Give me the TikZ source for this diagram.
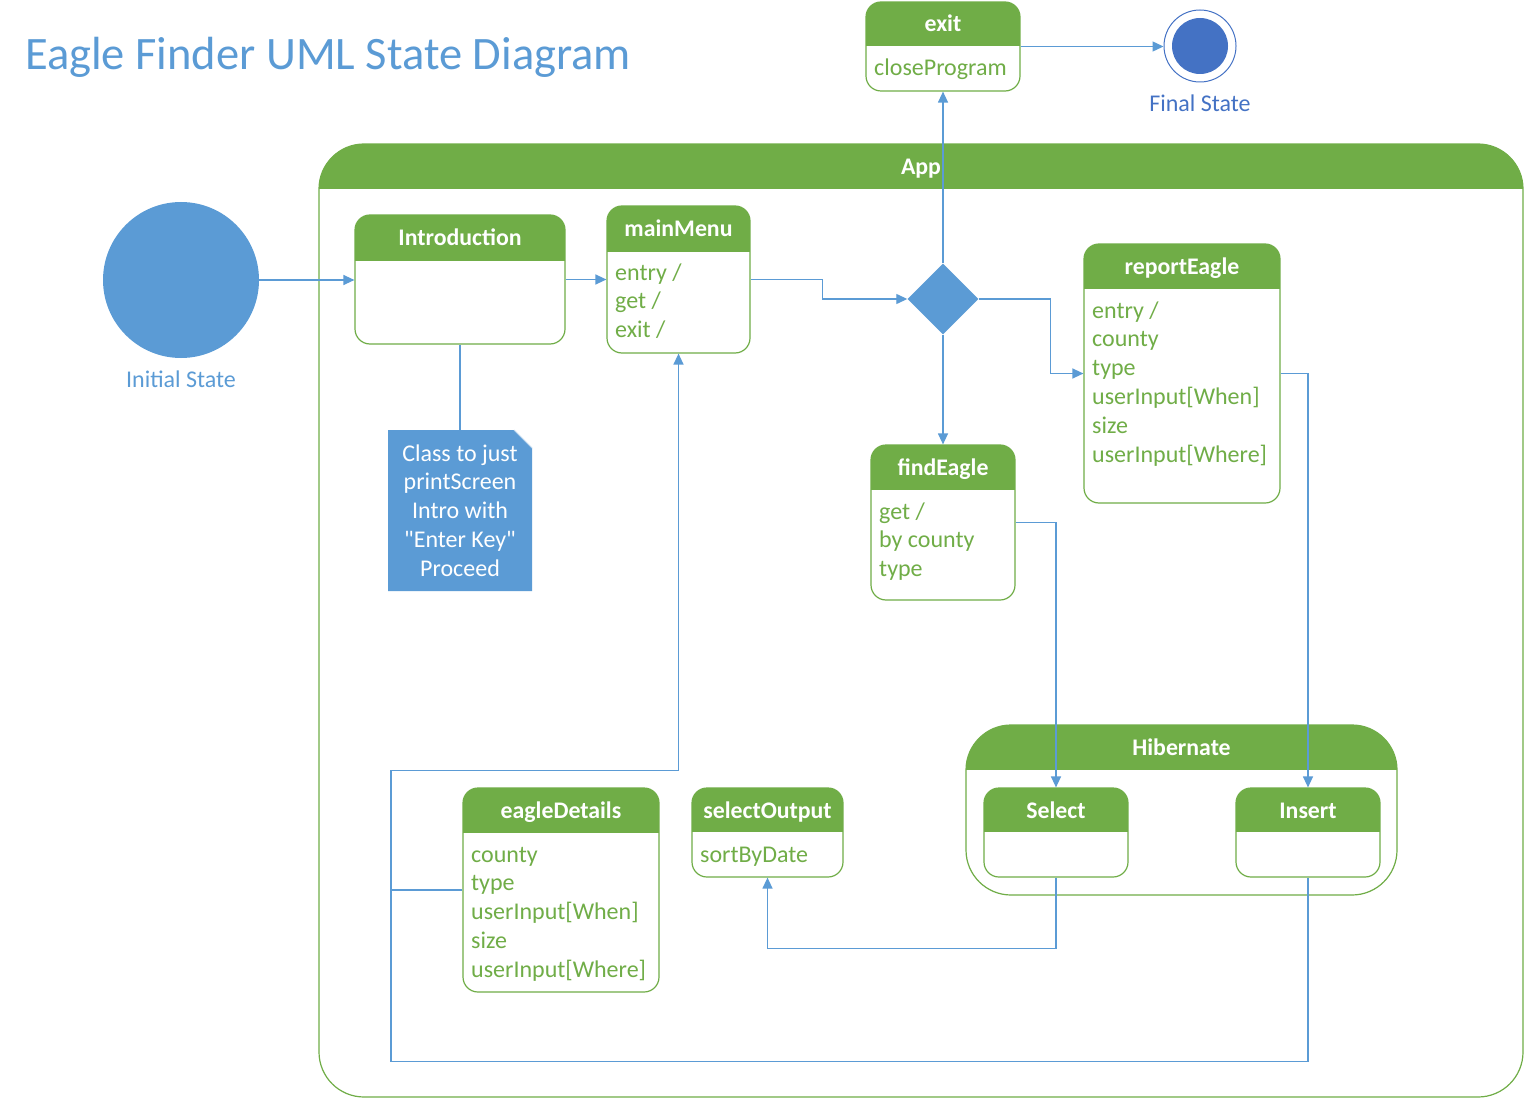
\documentclass[tikz,border=0pt]{standalone}
\usepackage{fontspec}
\setmainfont{Carlito}[Ligatures=TeXOff]
\usetikzlibrary{shapes.geometric,arrows.meta,fit,calc}
\definecolor{ggreen}{HTML}{70AD47}
\definecolor{lblue}{HTML}{5B9BD5}
\definecolor{dblue}{HTML}{4472C4}
\definecolor{foldline}{HTML}{BDD7EE}
\newcommand\ustate[8]{% name, x1,y1,x2,y2, header bottom, radius, title
  \begin{scope}
    \clip[rounded corners=#7] (#2,#3) rectangle (#4,#5);
    \fill[white] (#2,#3) rectangle (#4,#5);
    \fill[ggreen] (#2,#3) rectangle (#4,#6);
  \end{scope}
  \node[draw=ggreen, line width=1.2pt, rounded corners=#7, fit={(#2,#3) (#4,#5)}, inner sep=0pt] (#1) {};
  \node[htext] (#1-t) at ({(#2+#4)/2}, {(#3+#6)/2+8}) {#8};
}
\newcommand\blines[4]{% name, x, first baseline, list
  \foreach \t [count=\i from 0] in {#4} {\node[body] (#1-\i) at (#2, {#3+28.8*\i}) {\t};}
}
\begin{document}
\begin{tikzpicture}[x=1pt,y=-1pt,
  htext/.style={font=\bfseries\fontsize{23.8}{29}\selectfont, text=white, anchor=base, inner sep=0pt},
  body/.style={font=\fontsize{24}{29}\selectfont, text=ggreen, anchor=base west, inner sep=0pt},
  conn/.style={draw=lblue, line width=1.3pt, -{Triangle[length=11pt,width=10pt]}},
  plain/.style={draw=lblue, line width=1.3pt},
  lbl/.style={font=\fontsize{24}{29}\selectfont, anchor=base, inner sep=0pt},
]
\useasboundingbox (0,0) rectangle (1525,1099);

% title
\node[anchor=base west, font=\fontsize{46.5}{56}\selectfont, text=lblue, inner sep=0pt] (title) at (25,70) {Eagle Finder UML State Diagram};

% initial state
\node[circle, fill=lblue, minimum size=156pt, inner sep=0pt] (init) at (181,280) {};
\node[lbl, text=lblue] (initl) at (181,387) {Initial State};

% final state
\node[circle, draw=dblue, line width=1pt, minimum size=72pt, inner sep=0pt] (final) at (1200,46) {};
\node[circle, fill=dblue, minimum size=56pt, inner sep=0pt] (finalin) at (1200,46) {};
\node[lbl, text=dblue] (finall) at (1200,112) {Final State};

% exit
\ustate{exit}{866}{2}{1020}{91}{46}{15pt}{exit}
\blines{exitb}{874}{76}{closeProgram}

% App
\ustate{app}{319}{144}{1523}{1097}{189}{45pt}{App}

% Introduction
\ustate{intro}{355}{215}{565}{344}{261}{15pt}{Introduction}

% mainMenu
\ustate{main}{607}{206}{750}{353}{252}{15pt}{mainMenu}
\blines{mainb}{615}{280}{entry /,get /,exit /}

% decision
\node[diamond, fill=lblue, minimum width=71pt, minimum height=71pt, inner sep=0pt] (dec) at (943,299) {};

% reportEagle
\ustate{report}{1084}{244}{1280}{503}{289}{15pt}{reportEagle}
\blines{reportb}{1092}{318}{entry /,county,type,userInput[When],size,userInput[Where]}

% findEagle
\ustate{find}{871}{445}{1015}{600}{490}{15pt}{findEagle}
\blines{findb}{879}{519}{get /,by county,type}

% note
\fill[lblue] (388,430) -- (514,430) -- (532,448) -- (532,591) -- (388,591) -- cycle;
\draw[foldline, line width=0.8pt] (514,430) -- (532,448);
\coordinate (notetop) at (460,430);
\foreach \t [count=\i from 0] in {Class to just,printScreen,Intro with,"Enter Key",Proceed}
  {\node[lbl, text=white] (note-\i) at (460, {461+28.8*\i}) {\t};}

% Hibernate
\ustate{hib}{966}{725}{1397}{895}{770}{45pt}{Hibernate}
\ustate{select}{984}{788}{1128}{877}{832}{15pt}{Select}
\ustate{insert}{1236}{788}{1380}{877}{832}{15pt}{Insert}

% eagleDetails
\ustate{eagle}{463}{788}{659}{992}{833}{15pt}{eagleDetails}
\blines{eagleb}{471}{862}{county,type,userInput[When],size,userInput[Where]}

% selectOutput
\ustate{selout}{692}{788}{843}{877}{832}{15pt}{selectOutput}
\blines{seloutb}{700}{862}{sortByDate}

% connectors
\draw[conn] (init.east) -- (init.east -| intro.west);
\draw[conn] (intro.east) -- (main.west);
\draw[conn] (main.east) -- ++(72,0) |- (dec.west);
\draw[conn] (dec.north) -- (exit.south);
\draw[conn] (exit.east -| exit.east) -- (exit.east -| final.west);
\draw[conn] (dec.east) -- ++(72,0) |- (report.west);
\draw[conn] (dec.south) -- (find.north);
\draw[conn] (find.east) -| (select.north);
\draw[conn] (report.east) -| (insert.north);
\draw[conn] (select.south) -- ++(0,71) -| (selout.south);
\draw[plain] (intro.south) -- (notetop);
\coordinate (junc) at (391,890);
\draw[plain] (insert.south) -- ++(0,184) -| (junc);
\draw[conn] (eagle.west) -- (junc) |- ($(main.south)+(0,417)$) -- (main.south);
\end{tikzpicture}
\end{document}
